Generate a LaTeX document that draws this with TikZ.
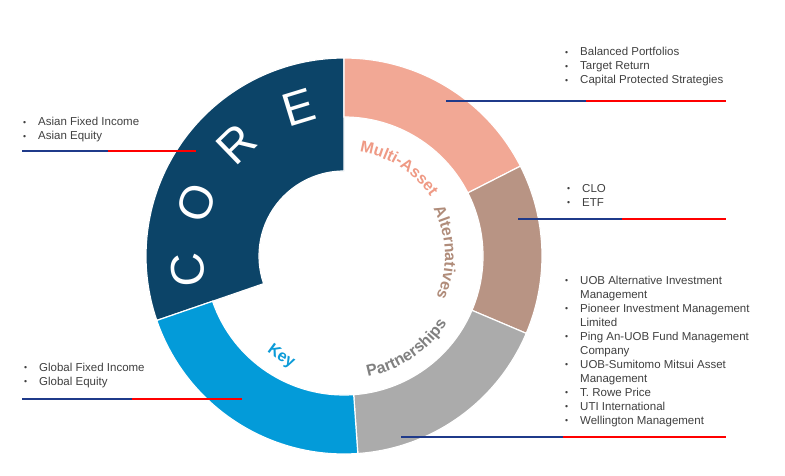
\documentclass[tikz,border=0pt]{standalone}
\usepackage{fontspec}
\setmainfont{Liberation Sans}
\usetikzlibrary{decorations.text}
\definecolor{coreC}{HTML}{0C4468}
\definecolor{maC}{HTML}{F2A895}
\definecolor{altC}{HTML}{B89484}
\definecolor{parC}{HTML}{ABABAB}
\definecolor{keyC}{HTML}{039BD9}
\definecolor{maT}{HTML}{EF9A85}
\definecolor{altT}{HTML}{B08C7A}
\definecolor{parT}{HTML}{808080}
\definecolor{keyT}{HTML}{0B9BD8}
\definecolor{navyL}{HTML}{1F3A8A}
\definecolor{redL}{HTML}{FF0000}
\definecolor{listT}{HTML}{404040}
\newcommand{\bul}{\makebox[15pt][l]{\raisebox{0.5pt}{\scalebox{0.75}{•}}}}
\newcommand{\ind}{\hspace*{15pt}}
\tikzset{
  seg/.style={draw=white, line width=1.2pt},
  listbox/.style={anchor=base west, inner sep=0pt, text=listT, font=\fontsize{11.5}{14}\selectfont},
  navyline/.style={draw=navyL, line width=2pt},
  redline/.style={draw=redL, line width=2pt},
  coreletter/.style={text=white, font=\fontsize{47}{47}\selectfont, inner sep=0pt},
  arclabel/.style={decorate, decoration={text along path, text align=center, text={#1}}}
}
\begin{document}
\begin{tikzpicture}[x=1pt,y=1pt]
\useasboundingbox (0,0) rectangle (785,475);
\fill[white] (0,0) rectangle (785,475);
\begin{scope}[shift={(344,219)}]
  % segments
  \fill[coreC, seg] (90:198) arc[start angle=90, end angle=199, radius=198] -- (199:85) arc[start angle=199, end angle=90, radius=85] -- cycle;
  \fill[maC, seg] (27:198) arc[start angle=27, end angle=90, radius=198] -- (90:139) arc[start angle=90, end angle=27, radius=139] -- cycle;
  \fill[altC, seg] (-23:198) arc[start angle=-23, end angle=27, radius=198] -- (27:139) arc[start angle=27, end angle=-23, radius=139] -- cycle;
  \fill[parC, seg] (-86:198) arc[start angle=-86, end angle=-23, radius=198] -- (-23:139) arc[start angle=-23, end angle=-86, radius=139] -- cycle;
  \fill[keyC, seg] (199:198) arc[start angle=199, end angle=274, radius=198] -- (274:139) arc[start angle=274, end angle=199, radius=139] -- cycle;
  % CORE letters
  \node[coreletter, rotate=95]  (coreC1) at (185:157) {C};
  \node[coreletter, rotate=70]  (coreO)  at (160:157) {O};
  \node[coreletter, rotate=44]  (coreR)  at (134:155) {R};
  \node[coreletter, rotate=17]  (coreE)  at (107:155) {E};
  % curved labels
  \path[arclabel={|\fontsize{16}{16}\selectfont\bfseries\color{maT}|Multi-Asset}] (90:105) arc[start angle=90, end angle=26, radius=105];
  \path[arclabel={|\fontsize{16}{16}\selectfont\bfseries\color{altT}|Alternatives}] (36:101) arc[start angle=36, end angle=-32, radius=101];
  \path[arclabel={|\fontsize{16}{16}\selectfont\bfseries\color{parT}|Partnerships}] (-92:123) arc[start angle=-92, end angle=-20, radius=123];
  \path[arclabel={|\fontsize{16}{16}\selectfont\bfseries\color{keyT}|Key}] (218:123) arc[start angle=218, end angle=258, radius=123];
\end{scope}
% lists
\node[listbox] (asia) at (23,349) {\begin{tabular}[t]{@{}l@{}}\bul Asian Fixed Income\\ \bul Asian Equity\end{tabular}};
\node[listbox] (glob) at (24,104) {\begin{tabular}[t]{@{}l@{}}\bul Global Fixed Income\\ \bul Global Equity\end{tabular}};
\node[listbox] (multi) at (565,419) {\begin{tabular}[t]{@{}l@{}}\bul Balanced Portfolios\\ \bul Target Return\\ \bul Capital Protected Strategies\end{tabular}};
\node[listbox] (alts) at (567,283) {\begin{tabular}[t]{@{}l@{}}\bul CLO\\ \bul ETF\end{tabular}};
\node[listbox] (parts) at (565,191) {\begin{tabular}[t]{@{}l@{}}\bul UOB Alternative Investment\\ \ind Management\\ \bul Pioneer Investment Management\\ \ind Limited\\ \bul Ping An-UOB Fund Management\\ \ind Company\\ \bul UOB-Sumitomo Mitsui Asset\\ \ind Management\\ \bul T. Rowe Price\\ \bul UTI International\\ \bul Wellington Management\end{tabular}};
% leader lines
\coordinate (asiaA) at (22,324); \coordinate (asiaM) at (108,324); \coordinate (asiaB) at (196,324);
\coordinate (globA) at (22,76); \coordinate (globM) at (132,76); \coordinate (globB) at (242,76);
\coordinate (multiA) at (446,374); \coordinate (multiM) at (586,374); \coordinate (multiB) at (726,374);
\coordinate (altsA) at (518,256); \coordinate (altsM) at (622,256); \coordinate (altsB) at (726,256);
\coordinate (partsA) at (401,38); \coordinate (partsM) at (563,38); \coordinate (partsB) at (726,38);
\draw[navyline] (asiaA) -- (asiaM); \draw[redline] (asiaM) -- (asiaB);
\draw[navyline] (globA) -- (globM); \draw[redline] (globM) -- (globB);
\draw[navyline] (multiA) -- (multiM); \draw[redline] (multiM) -- (multiB);
\draw[navyline] (altsA) -- (altsM); \draw[redline] (altsM) -- (altsB);
\draw[navyline] (partsA) -- (partsM); \draw[redline] (partsM) -- (partsB);
\end{tikzpicture}
\end{document}
